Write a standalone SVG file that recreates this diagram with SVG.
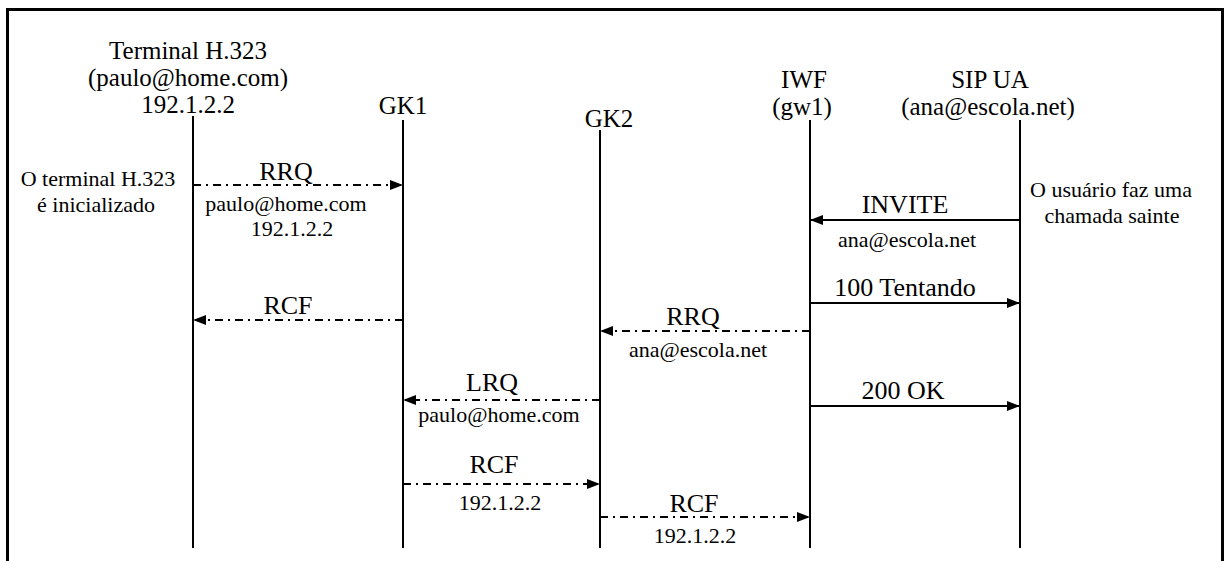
<svg xmlns="http://www.w3.org/2000/svg" width="1226" height="561" viewBox="0 0 1226 561">
<style>
text{font-family:'Liberation Serif','DejaVu Serif',serif;fill:#000;text-anchor:middle}
.b{font-size:25px}
.m{font-size:26px}
.s{font-size:22px}
.life{stroke:#000;stroke-width:2;fill:none}
.msg{stroke:#000;stroke-width:2;fill:none;marker-end:url(#ah)}
.dd{stroke-dasharray:8,5,2,5}
</style>
<defs>
<marker id="ah" markerUnits="userSpaceOnUse" markerWidth="13" markerHeight="10" refX="13" refY="5" orient="auto">
<path d="M0,0 L13,5 L0,10 z" fill="#000"/>
</marker>
</defs>
<rect width="1226" height="561" fill="#fff"/>
<path d="M7.5,570 V9.5 H1222.5 V570" fill="none" stroke="#000" stroke-width="3"/>

<g id="terminal" font-family="Liberation Serif, serif">
<text class="b" x="188" y="59">Terminal H.323</text>
<text class="b" x="188" y="86">(paulo@home.com)</text>
<text class="b" x="188" y="113">192.1.2.2</text>
<line class="life" x1="193" y1="116" x2="193" y2="548"/>
</g>
<g id="gk1" font-family="Liberation Serif, serif">
<text class="b" x="403" y="114">GK1</text>
<line class="life" x1="403" y1="120" x2="403" y2="548"/>
</g>
<g id="gk2" font-family="Liberation Serif, serif">
<text class="b" x="609" y="127">GK2</text>
<line class="life" x1="600" y1="130" x2="600" y2="548"/>
</g>
<g id="iwf" font-family="Liberation Serif, serif">
<text class="b" x="804" y="88">IWF</text>
<text class="b" x="802" y="115">(gw1)</text>
<line class="life" x1="810" y1="120" x2="810" y2="548"/>
</g>
<g id="sipua" font-family="Liberation Serif, serif">
<text class="b" x="990" y="88">SIP UA</text>
<text class="b" x="988" y="115">(ana@escola.net)</text>
<line class="life" x1="1020" y1="120" x2="1020" y2="548"/>
</g>
<g id="note-terminal" font-family="Liberation Serif, serif">
<text class="s" x="98" y="186">O terminal H.323</text>
<text class="s" x="96" y="212">é inicializado</text>
</g>
<g id="note-sip" font-family="Liberation Serif, serif">
<text class="s" x="1111" y="197">O usuário faz uma</text>
<text class="s" x="1112" y="223">chamada sainte</text>
</g>

<g id="connectors" font-family="Liberation Serif, serif">
<line class="msg dd" x1="193" y1="185" x2="403" y2="185"/>
<text class="m" x="286" y="180">RRQ</text>
<text class="s" x="286" y="211">paulo@home.com</text>
<text class="s" x="292" y="236">192.1.2.2</text>

<line class="msg" x1="1020" y1="220" x2="810" y2="220"/>
<text class="m" x="905" y="213">INVITE</text>
<text class="s" x="907" y="247">ana@escola.net</text>

<line class="msg" x1="810" y1="303" x2="1020" y2="303"/>
<text class="m" x="905" y="296">100 Tentando</text>

<line class="msg dd" x1="403" y1="320" x2="193" y2="320"/>
<text class="m" x="288" y="314">RCF</text>

<line class="msg dd" x1="810" y1="331" x2="600" y2="331"/>
<text class="m" x="693" y="325">RRQ</text>
<text class="s" x="698" y="357">ana@escola.net</text>

<line class="msg dd" x1="600" y1="400" x2="403" y2="400"/>
<text class="m" x="492" y="391">LRQ</text>
<text class="s" x="499" y="422">paulo@home.com</text>

<line class="msg" x1="810" y1="406" x2="1020" y2="406"/>
<text class="m" x="903" y="399">200 OK</text>

<line class="msg dd" x1="403" y1="484" x2="600" y2="484"/>
<text class="m" x="494" y="473">RCF</text>
<text class="s" x="500" y="510">192.1.2.2</text>

<line class="msg dd" x1="600" y1="517" x2="810" y2="517"/>
<text class="m" x="694" y="512">RCF</text>
<text class="s" x="695" y="543">192.1.2.2</text>
</g>
</svg>
